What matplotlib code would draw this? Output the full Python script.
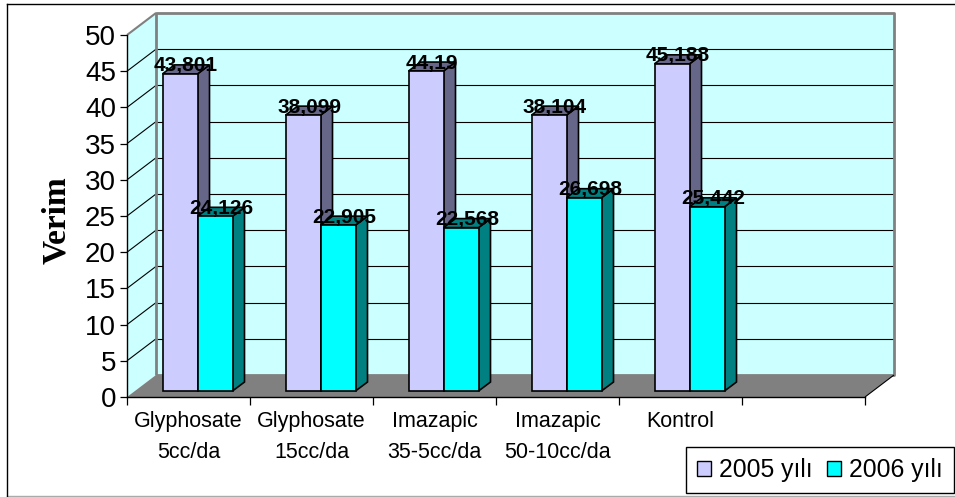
#!/usr/bin/env python3
"""Pseudo-3D clustered bar chart of yield (Verim) per treatment for 2005 and 2006."""
import matplotlib
matplotlib.use("Agg")
import matplotlib.pyplot as plt
from matplotlib.patches import Patch, Polygon, Rectangle

categories = ["Glyphosate\n5cc/da", "Glyphosate\n15cc/da", "Imazapic\n35-5cc/da",
              "Imazapic\n50-10cc/da", "Kontrol", ""]
values_2005 = [43.801, 38.099, 44.19, 38.104, 45.188]
values_2006 = [24.126, 22.905, 22.568, 26.698, 25.442]
labels_2005 = ["43,801", "38,099", "44,19", "38,104", "45,188"]
labels_2006 = ["24,126", "22,905", "22,568", "26,698", "25,442"]
yticks = list(range(0, 55, 5))

W, H = 955, 497
AX_L, AX_R, AX_T, AX_B = 127, 865, 35, 397  # plot box in pixels
PX_X = (AX_R - AX_L) / 6
PX_Y = (AX_B - AX_T) / 50

# oblique depth of the box, and where the bars sit inside it (data units)
DX, DY = 29 / PX_X, 22 / PX_Y
BAR_W = 35 / PX_X
BAR_X0, BAR_Y0 = 9 / PX_X, 6 / PX_Y
BAR_DX, BAR_DY = 12 / PX_X, 9 / PX_Y

WALL = "#ccffff"
GREY = "#808080"
C_2005, C_2005_SIDE = "#ccccff", "#666688"
C_2006, C_2006_SIDE = "#00ffff", "#008080"

plt.rcParams["font.family"] = ["Liberation Sans", "DejaVu Sans"]

fig = plt.figure(figsize=(W / 100, H / 100), dpi=100)
ax = fig.add_axes([AX_L / W, 1 - AX_B / H, (AX_R - AX_L) / W, (AX_B - AX_T) / H])
ax.set_xlim(0, 6)
ax.set_ylim(0, 50)
ax.patch.set_visible(False)
for side in ("top", "right"):
    ax.spines[side].set_visible(False)
for side in ("left", "bottom"):
    ax.spines[side].set_linewidth(1.0)
    ax.spines[side].set_zorder(9)


def poly(pts, face, edge="none", lw=0.0, z=1):
    ax.add_patch(Polygon(pts, closed=True, facecolor=face, edgecolor=edge, linewidth=lw,
                         zorder=z, clip_on=False, joinstyle="miter"))


def line(xs, ys, color="black", lw=0.8, z=2):
    ax.plot(xs, ys, color=color, lw=lw, zorder=z, clip_on=False, solid_capstyle="butt")


# walls and floor
poly([(DX, DY), (6 + DX, DY), (6 + DX, 50 + DY), (DX, 50 + DY)], WALL)
poly([(0, 0), (DX, DY), (DX, 50 + DY), (0, 50)], WALL)
for t in yticks[1:-1]:
    line([DX, 6 + DX], [t + DY, t + DY])
    line([0, DX], [t, t + DY])
line([DX, DX, 6 + DX, 6 + DX, DX], [DY, 50 + DY, 50 + DY, DY, DY], GREY, 2.0, 3)
poly([(0, 0), (6, 0), (6 + DX, DY), (DX, DY)], GREY, z=4)
line([0, DX], [50, 50 + DY], GREY, 1.5, 3)
line([6, 6 + DX], [0, DY], "black", 0.8, 5)


def bar(x, val, face, side, text, z):
    x1 = x + BAR_W
    top = BAR_Y0 + val
    poly([(x1, BAR_Y0), (x1 + BAR_DX, BAR_Y0 + BAR_DY), (x1 + BAR_DX, top + BAR_DY), (x1, top)],
         side, "black", 1.2, z)
    poly([(x, top), (x1, top), (x1 + BAR_DX, top + BAR_DY), (x + BAR_DX, top + BAR_DY)],
         side, "black", 1.2, z)
    ax.add_patch(Rectangle((x, BAR_Y0), BAR_W, val, facecolor=face, edgecolor="black",
                           linewidth=1.2, zorder=z, clip_on=False))
    ax.text(x + (BAR_W + BAR_DX) / 2, top + BAR_DY - 0.14, text, ha="center", va="center",
            fontsize=15, fontweight="bold", color="black", zorder=30, clip_on=False)


for i in range(len(values_2005)):
    x_a = i + 0.5 + BAR_X0 - BAR_W
    bar(x_a, values_2005[i], C_2005, C_2005_SIDE, labels_2005[i], 10 + 2 * i)
    bar(x_a + BAR_W, values_2006[i], C_2006, C_2006_SIDE, labels_2006[i], 11 + 2 * i)

ax.set_yticks(yticks)
ax.tick_params(axis="y", length=5, width=0.9, labelsize=20, pad=3)
ax.set_xticks(range(7))
ax.set_xticklabels([])
ax.tick_params(axis="x", which="major", length=6, width=0.9)
ax.set_xticks([i + 0.5 for i in range(6)], labels=categories, minor=True)
ax.tick_params(axis="x", which="minor", length=0, labelsize=15.5, pad=10)
for lab in ax.get_xticklabels(minor=True):
    lab.set_linespacing(1.63)
    lab.set_verticalalignment("top")

fig.text(56.5 / W, 1 - 220 / H, "Verim", rotation=90, ha="center", va="center",
         family=["Liberation Serif"], fontweight="bold", fontsize=24)

ax.legend(handles=[Patch(facecolor=C_2005, edgecolor="black", label="2005 yılı"),
                   Patch(facecolor=C_2006, edgecolor="black", label="2006 yılı")],
          ncol=2, loc="lower right", bbox_to_anchor=(954 / W, 1 - 493 / H),
          bbox_transform=fig.transFigure, fancybox=False, framealpha=1, edgecolor="black",
          fontsize=17.8, handlelength=0.57, handleheight=0.57, handletextpad=0.32,
          columnspacing=0.57, borderpad=0.45, borderaxespad=0)

# chart area frame
fig.add_artist(plt.Line2D([6.5 / W, 1], [1 - 3.5 / H] * 2, color="black", lw=1.0))
fig.add_artist(plt.Line2D([6.5 / W, 1], [1 - 495.5 / H] * 2, color="#aaaaaa", lw=1.0))
fig.add_artist(plt.Line2D([6.5 / W] * 2, [1 - 495.5 / H, 1 - 3.5 / H], color="black", lw=1.0))

fig.savefig("out.png", dpi=100)
